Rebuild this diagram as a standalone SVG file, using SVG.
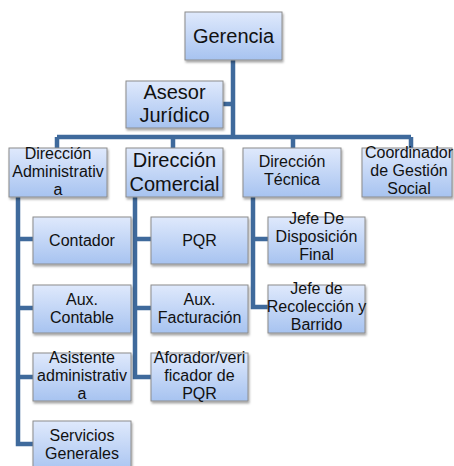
<svg xmlns="http://www.w3.org/2000/svg" width="454" height="466" viewBox="0 0 454 466">
<style>
.box{fill:url(#g);stroke:#8c8c8c;stroke-width:1;filter:url(#sh)}
.t{font-family:"Liberation Sans",Arial,sans-serif;font-size:16px;fill:#111;text-anchor:middle}
.big{font-size:20px}
.c{fill:none;stroke:#3f6a9c;stroke-width:4.5;stroke-linejoin:miter}
</style>
<defs>
<linearGradient id="g" x1="0" y1="0" x2="0" y2="1">
<stop offset="0" stop-color="#dfe9fc"/>
<stop offset="1" stop-color="#a7c3f0"/>
</linearGradient>
<filter id="sh" x="-10%" y="-10%" width="130%" height="140%">
<feDropShadow dx="1" dy="2" stdDeviation="1.3" flood-color="#000" flood-opacity="0.35"/>
</filter>
</defs>
<rect width="454" height="466" fill="#fff"/>
<g id="connectors">
<path class="c" d="M233,60 V137 M223,104 H233 M57,137 H411 M57,137 V148 M173,137 V148 M293,137 V148 M411,137 V148"/>
<path class="c" d="M18,197 V444 H33 M18,239 H33 M18,308 H33 M18,377 H33"/>
<path class="c" d="M135,197 V377 H151 M135,239 H151 M135,308 H151"/>
<path class="c" d="M253,197 V307 H268 M253,239 H268"/>
</g>
<g id="gerencia"><rect class="box" x="185" y="12" width="97" height="48"/><text class="t big" x="233.5" y="43">Gerencia</text></g>
<g id="asesor"><rect class="box" x="126" y="81" width="97" height="47"/><text class="t big" x="174.5" y="99">Asesor</text><text class="t big" x="174.5" y="122">Jurídico</text></g>
<g id="dir-admin"><rect class="box" x="9" y="148" width="98" height="49"/><text class="t" x="58" y="159">Dirección</text><text class="t" x="58" y="177">Administrativ</text><text class="t" x="58" y="195">a</text></g>
<g id="dir-comercial"><rect class="box" x="126" y="148" width="97" height="49"/><text class="t big" x="174.5" y="167">Dirección</text><text class="t big" x="174.5" y="191">Comercial</text></g>
<g id="dir-tecnica"><rect class="box" x="243" y="148" width="98" height="49"/><text class="t" x="292" y="167">Dirección</text><text class="t" x="292" y="185">Técnica</text></g>
<g id="coordinador"><rect class="box" x="362" y="148" width="90" height="49"/><text class="t" x="409" y="158">Coordinador</text><text class="t" x="409" y="176">de Gestión</text><text class="t" x="409" y="194">Social</text></g>
<g id="contador"><rect class="box" x="33" y="217" width="98" height="47"/><text class="t" x="82" y="246">Contador</text></g>
<g id="aux-contable"><rect class="box" x="33" y="285" width="98" height="48"/><text class="t" x="82" y="305">Aux.</text><text class="t" x="82" y="323">Contable</text></g>
<g id="asistente"><rect class="box" x="33" y="353" width="98" height="48"/><text class="t" x="82" y="363">Asistente</text><text class="t" x="82" y="381">administrativ</text><text class="t" x="82" y="399">a</text></g>
<g id="servicios"><rect class="box" x="33" y="421" width="98" height="52"/><text class="t" x="82" y="441">Servicios</text><text class="t" x="82" y="459">Generales</text></g>
<g id="pqr"><rect class="box" x="151" y="217" width="97" height="47"/><text class="t" x="199.5" y="246">PQR</text></g>
<g id="aux-facturacion"><rect class="box" x="151" y="285" width="97" height="48"/><text class="t" x="199.5" y="305">Aux.</text><text class="t" x="199.5" y="323">Facturación</text></g>
<g id="aforador"><rect class="box" x="151" y="353" width="97" height="48"/><text class="t" x="199.5" y="363">Aforador/veri</text><text class="t" x="199.5" y="381">ficador de</text><text class="t" x="199.5" y="399">PQR</text></g>
<g id="jefe-disposicion"><rect class="box" x="268" y="217" width="97" height="47"/><text class="t" x="316.5" y="224">Jefe De</text><text class="t" x="316.5" y="242">Disposición</text><text class="t" x="316.5" y="260">Final</text></g>
<g id="jefe-recoleccion"><rect class="box" x="268" y="285" width="97" height="48"/><text class="t" x="316.5" y="294">Jefe de</text><text class="t" x="316.5" y="312">Recolección y</text><text class="t" x="316.5" y="330">Barrido</text></g>
</svg>
